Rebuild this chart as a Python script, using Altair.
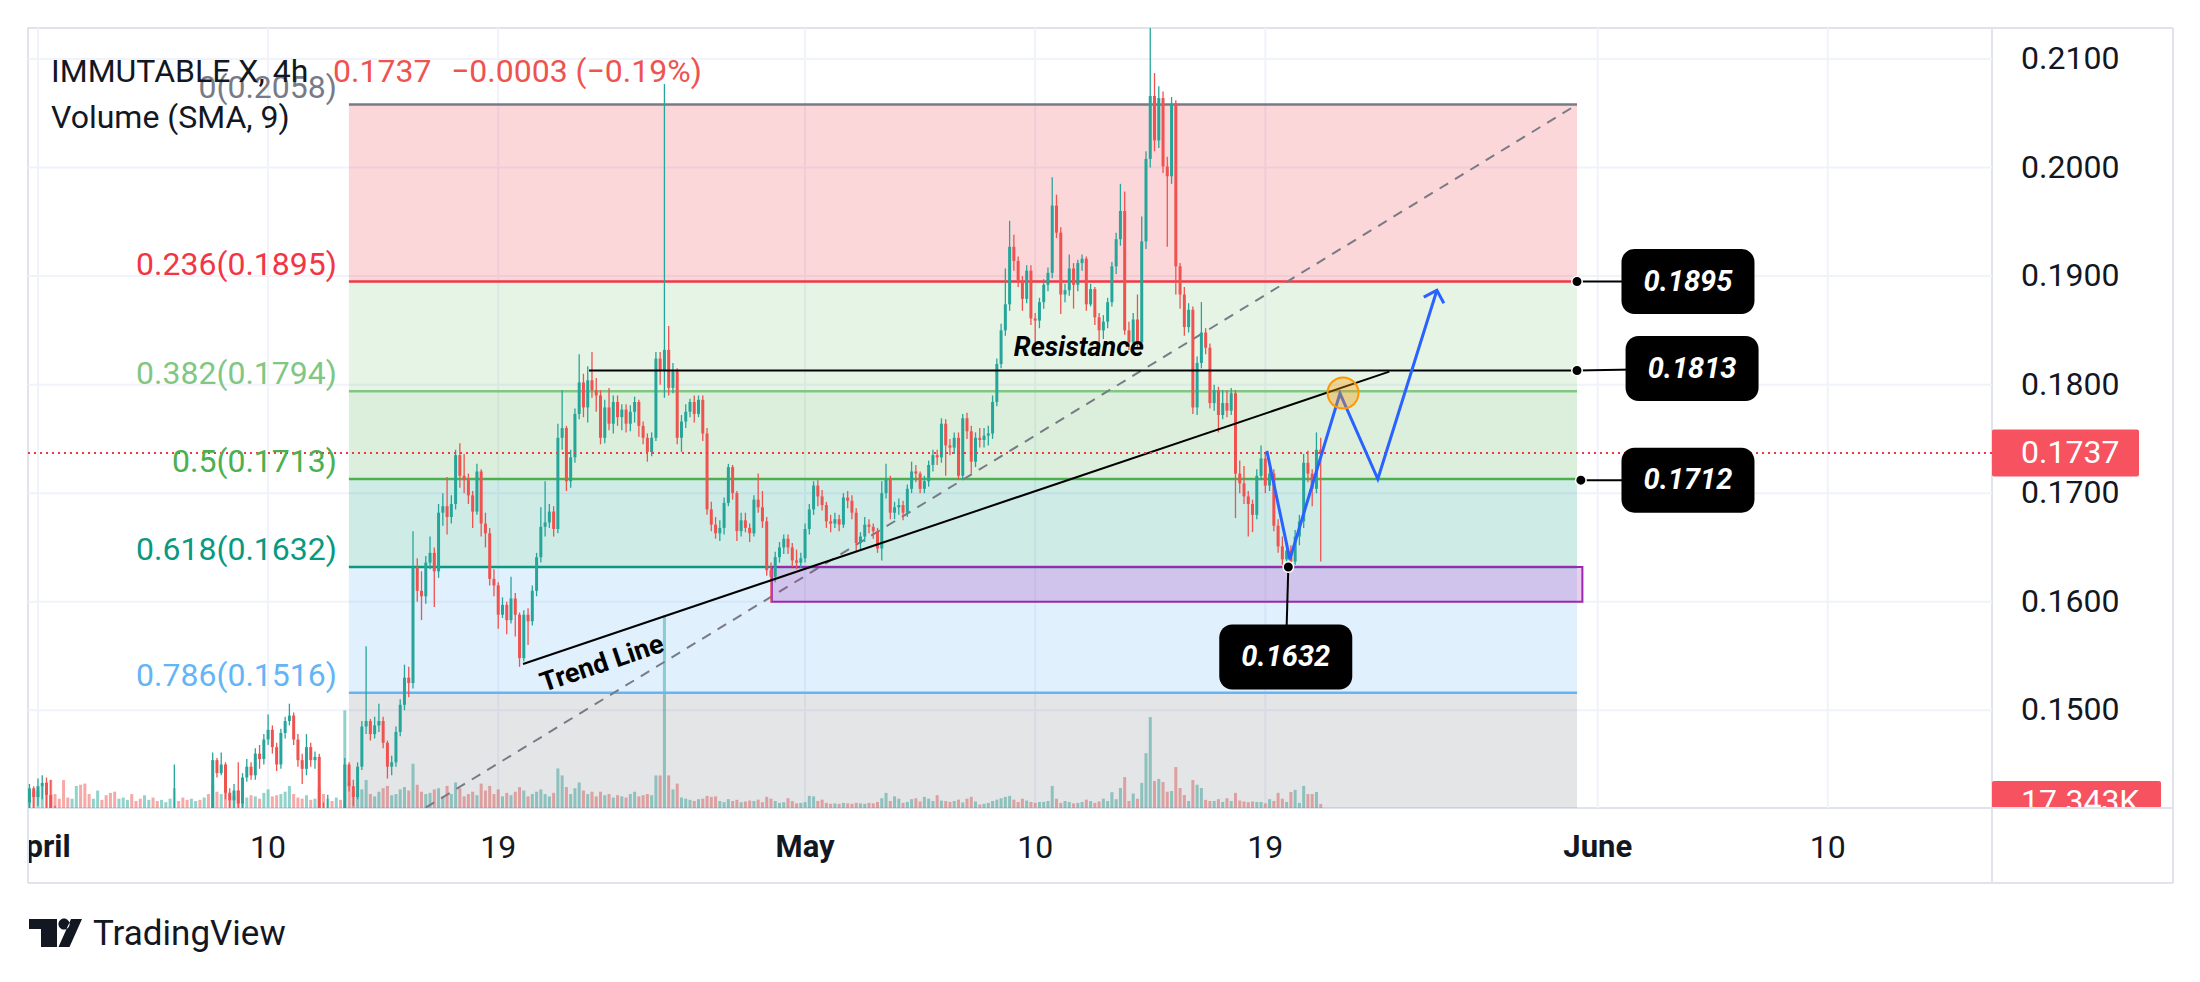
import altair as alt
import pandas as pd

# ---------------- values ----------------
# 4h candles, bar index k -> k/6 days after 1 April 00:00 (first bar = 31 Mar 16:00)
FIRST_BAR = -2
OPEN0 = 1415          # prices below are in units of 0.0001
CLOSE = [
    1428, 1420,
    1430, 1433, 1422, 1408, 1395, 1390,
    1385, 1378, 1392, 1398, 1388, 1380,
    1375, 1382, 1390, 1386, 1379, 1372,
    1368, 1376, 1384, 1395, 1390, 1384,
    1378, 1386, 1393, 1388, 1382, 1390,
    1395, 1400, 1405, 1398, 1392, 1388,
    1394, 1400, 1396, 1402, 1398, 1454,
    1442, 1450, 1424, 1417, 1426, 1414,
    1438, 1448, 1440, 1460, 1455, 1473,
    1482, 1466, 1450, 1479, 1490, 1495,
    1473, 1454, 1446, 1466, 1454, 1457,
    1405, 1392, 1398, 1388, 1395, 1390,
    1450, 1430, 1420, 1448, 1485, 1490,
    1478, 1486, 1490, 1470, 1448, 1452,
    1480, 1505, 1530, 1525, 1632, 1610,
    1605, 1636, 1645, 1628, 1682, 1688,
    1678, 1690, 1735, 1716, 1712, 1698,
    1683, 1720, 1672, 1663, 1621, 1615,
    1588, 1597, 1583, 1603, 1588, 1548,
    1588, 1582, 1610, 1641, 1669, 1673,
    1683, 1667, 1751, 1760, 1711, 1733,
    1773, 1802, 1779, 1804, 1795, 1790,
    1751, 1779, 1764, 1784, 1770, 1777,
    1764, 1775, 1784, 1762, 1751, 1738,
    1751, 1824, 1813, 1832, 1797, 1812,
    1751, 1766, 1775, 1784, 1773, 1786,
    1755, 1685, 1671, 1663, 1668, 1691,
    1724, 1700, 1665, 1675, 1668, 1663,
    1694, 1687, 1674, 1629, 1623, 1641,
    1650, 1658, 1650, 1638, 1636, 1640,
    1667, 1685, 1707, 1697, 1689, 1674,
    1672, 1676, 1671, 1696, 1693, 1682,
    1654, 1660, 1671, 1669, 1665, 1649,
    1700, 1713, 1682, 1687, 1689, 1682,
    1704, 1720, 1718, 1704, 1711, 1726,
    1735, 1733, 1764, 1744, 1742, 1751,
    1716, 1769, 1757, 1729, 1751, 1749,
    1753, 1755, 1784, 1819, 1850, 1874,
    1927, 1914, 1896, 1879, 1905, 1861,
    1859, 1876, 1892, 1903, 1965, 1940,
    1883, 1887, 1907, 1892, 1912, 1916,
    1874, 1888, 1862, 1850, 1858, 1876,
    1909, 1934, 1960, 1850, 1839, 1860,
    1839, 1932, 2008, 2066, 2025, 2064,
    2001, 1992, 2059, 1909, 1883, 1853,
    1869, 1779, 1820, 1848, 1834, 1783,
    1795, 1772, 1783, 1776, 1792, 1718,
    1709, 1697, 1690, 1680, 1716, 1732,
    1707, 1718, 1670, 1651, 1639, 1647,
    1637, 1660, 1674, 1728, 1718, 1704,
    1740, 1737,
]
HIGH = [
    1432, 1430,
    1437, 1440, 1438, 1436, 1412, 1400,
    1394, 1390, 1398, 1405, 1400, 1392,
    1384, 1388, 1396, 1394, 1390, 1382,
    1377, 1382, 1390, 1402, 1398, 1394,
    1388, 1391, 1399, 1396, 1390, 1395,
    1400, 1408, 1450, 1408, 1402, 1396,
    1398, 1406, 1404, 1409, 1406, 1461,
    1456, 1461, 1452, 1428, 1432, 1452,
    1442, 1455, 1452, 1465, 1468, 1478,
    1496, 1486, 1470, 1483, 1494, 1506,
    1498, 1478, 1460, 1478, 1470, 1462,
    1460, 1415, 1422, 1410, 1402, 1400,
    1456, 1452, 1436, 1452, 1490, 1559,
    1492, 1494, 1506, 1494, 1472, 1458,
    1485, 1510, 1542, 1540, 1665, 1640,
    1628, 1642, 1660, 1650, 1690, 1700,
    1715, 1698, 1740, 1746, 1736, 1718,
    1702, 1727, 1722, 1682, 1668, 1630,
    1618, 1604, 1600, 1623, 1608, 1590,
    1592, 1594, 1615, 1645, 1687, 1711,
    1690, 1688, 1764, 1795, 1762, 1740,
    1778, 1828, 1810, 1817, 1830, 1806,
    1795, 1786, 1797, 1790, 1790, 1782,
    1782, 1781, 1789, 1786, 1766, 1755,
    1756, 1830, 1830, 2077, 1854, 1820,
    1815, 1772, 1782, 1787, 1790, 1790,
    1790, 1760, 1692, 1678, 1675, 1696,
    1727, 1726, 1702, 1682, 1682, 1672,
    1698, 1718, 1702, 1678, 1636, 1646,
    1655, 1662, 1662, 1654, 1648, 1645,
    1672, 1690, 1711, 1712, 1703, 1692,
    1680, 1682, 1680, 1700, 1702, 1698,
    1686, 1664, 1678, 1676, 1672, 1668,
    1711, 1727, 1716, 1692, 1695, 1693,
    1708, 1729, 1726, 1720, 1716, 1730,
    1740, 1740, 1769, 1768, 1750, 1756,
    1756, 1773, 1774, 1762, 1756, 1760,
    1760, 1762, 1790, 1824, 1856, 1907,
    1951, 1938, 1918, 1900, 1910, 1910,
    1866, 1880, 1897, 1908, 1991, 1975,
    1945, 1893, 1920, 1912, 1915, 1920,
    1918, 1893, 1890, 1866, 1864, 1880,
    1913, 1940, 1985, 1978, 1858, 1866,
    1883, 1955, 2015, 2129, 2087, 2075,
    2070, 2010, 2065, 2062, 1912, 1890,
    1875, 1872, 1826, 1876, 1852, 1838,
    1800, 1798, 1795, 1795, 1797, 1795,
    1730, 1725, 1702, 1694, 1722, 1744,
    1736, 1725, 1722, 1676, 1660, 1655,
    1652, 1666, 1680, 1736, 1739, 1722,
    1756, 1751,
]
LOW = [
    1405, 1408,
    1412, 1418, 1410, 1400, 1388, 1380,
    1376, 1370, 1375, 1386, 1380, 1372,
    1368, 1371, 1378, 1378, 1372, 1365,
    1360, 1364, 1372, 1380, 1383, 1376,
    1372, 1374, 1382, 1381, 1376, 1378,
    1385, 1390, 1396, 1392, 1386, 1380,
    1382, 1388, 1390, 1392, 1390, 1396,
    1438, 1440, 1418, 1408, 1410, 1405,
    1410, 1434, 1436, 1436, 1446, 1450,
    1468, 1460, 1444, 1446, 1474, 1486,
    1468, 1448, 1432, 1440, 1448, 1446,
    1398, 1385, 1388, 1380, 1382, 1384,
    1390, 1425, 1412, 1418, 1445, 1478,
    1472, 1474, 1480, 1465, 1437, 1440,
    1448, 1476, 1500, 1512, 1520, 1600,
    1583, 1598, 1630, 1595, 1622, 1670,
    1662, 1672, 1685, 1705, 1700, 1690,
    1668, 1680, 1660, 1650, 1615, 1605,
    1575, 1585, 1570, 1580, 1568, 1540,
    1545, 1560, 1578, 1605, 1636, 1660,
    1668, 1660, 1663, 1740, 1702, 1705,
    1728, 1768, 1770, 1765, 1788, 1775,
    1745, 1746, 1758, 1755, 1762, 1758,
    1756, 1757, 1765, 1752, 1745, 1729,
    1734, 1748, 1800, 1788, 1790, 1792,
    1745, 1738, 1760, 1770, 1765, 1770,
    1748, 1680, 1665, 1658, 1656, 1662,
    1688, 1694, 1656, 1660, 1664, 1655,
    1660, 1682, 1668, 1624, 1599, 1618,
    1636, 1644, 1644, 1632, 1630, 1631,
    1636, 1662, 1680, 1688, 1684, 1668,
    1664, 1668, 1665, 1668, 1686, 1676,
    1647, 1648, 1655, 1663, 1658, 1645,
    1638, 1695, 1676, 1676, 1680, 1675,
    1678, 1700, 1710, 1700, 1700, 1706,
    1720, 1726, 1728, 1716, 1735, 1736,
    1712, 1712, 1750, 1718, 1724, 1742,
    1742, 1744, 1750, 1780, 1815, 1845,
    1868, 1905, 1890, 1868, 1875, 1855,
    1839, 1852, 1870, 1886, 1898, 1935,
    1865, 1876, 1882, 1870, 1886, 1905,
    1868, 1872, 1855, 1834, 1842, 1852,
    1872, 1902, 1928, 1846, 1832, 1834,
    1834, 1835, 1925, 2000, 2015, 2018,
    1995, 1927, 1985, 1883, 1870, 1845,
    1848, 1773, 1772, 1815, 1828, 1778,
    1776, 1756, 1768, 1770, 1772, 1677,
    1700, 1690, 1660, 1664, 1676, 1712,
    1700, 1702, 1665, 1645, 1634, 1632,
    1633, 1634, 1652, 1668, 1710, 1688,
    1700, 1637,
]
VOLUME_K = [
    60, 70,
    75, 95, 110, 120, 60, 40,
    120, 45, 40, 95, 100, 105,
    60, 40, 75, 35, 55, 65,
    70, 40, 45, 35, 60, 30,
    40, 55, 35, 45, 30, 35,
    25, 40, 85, 30, 45, 35,
    40, 30, 35, 45, 60, 100,
    70, 60, 90, 55, 50, 75,
    60, 45, 55, 50, 40, 65,
    80, 50, 55, 60, 70, 95,
    60, 45, 40, 55, 35, 40,
    90, 60, 40, 30, 45, 35,
    420, 110, 70, 60, 80, 120,
    60, 50, 70, 85, 95, 55,
    60, 80, 90, 75, 190, 100,
    70, 60, 65, 80, 85, 50,
    95, 60, 110, 85, 50, 60,
    70, 55, 105, 75, 95, 60,
    80, 50, 65, 55, 70, 90,
    75, 50, 60, 70, 80, 60,
    50, 65, 170, 140, 90, 60,
    85, 110, 75, 60, 70, 50,
    70, 55, 60, 45, 55, 50,
    45, 60, 70, 50, 55, 60,
    55, 140, 140, 830, 140, 80,
    105, 45, 40, 35, 30, 38,
    40, 52, 48, 50, 30, 25,
    38, 30, 35, 25, 28, 32,
    30, 36, 25, 48, 40, 30,
    22, 25, 42, 30, 20, 22,
    25, 52, 50, 30, 36, 22,
    18, 20, 18, 22, 20, 18,
    22, 20, 18, 22, 20, 26,
    42, 65, 30, 50, 40, 22,
    26, 38, 42, 28, 48, 40,
    30, 55, 32, 30, 26, 30,
    36, 24, 40, 48, 28, 15,
    18, 22, 30, 36, 42, 48,
    52, 36, 26, 40, 32, 26,
    22, 26, 26, 30, 95, 40,
    22, 30, 26, 20, 22, 26,
    36, 30, 22, 28, 40, 30,
    68, 38, 86, 133, 30, 62,
    40, 108, 236, 391, 116, 125,
    112, 70, 73, 176, 86, 56,
    30, 120, 100, 86, 35, 30,
    30, 38, 26, 42, 30, 65,
    32, 28, 25, 28, 26, 26,
    20, 38, 30, 65, 40, 26,
    69, 78, 22, 95, 60, 60,
    69, 17.343,
]

# Fibonacci retracement
FIB_LEVELS = [0, 0.236, 0.382, 0.5, 0.618, 0.786, 1]
FIB_PRICES = [0.2058, 0.1895, 0.1794, 0.1713, 0.1632, 0.1516, 0.1367]
FIB_COLORS = ["#787b86", "#f23645", "#81c784", "#4caf50", "#089981", "#64b5f6", "#787b86"]
FIB_START, FIB_END = 12.16, 60.19

# drawings (day, price)
RES_START, RES_END, RES_PRICE = 21.55, 60.19, 0.1813
TREND_DAYS = [18.97, 52.85]
TREND_PRICES = [0.15426, 0.1812]
ZONE_DAYS = [28.7, 60.4]
ZONE_PRICES = [0.1632, 0.1600]
PATH_DAYS = [48.06, 48.96, 50.92, 52.40, 54.71]
PATH_PRICES = [0.1739, 0.1639, 0.1792, 0.1713, 0.1887]
CIRCLE_DAY, CIRCLE_PRICE = 51.04, 0.17923
CALL_TEXT = ["0.1895", "0.1813", "0.1712", "0.1632"]
CALL_DOT_DAY = [60.19, 60.19, 60.34, 48.9]
CALL_DOT_PRICE = [0.1895, 0.1813, 0.1712, 0.1632]
CALL_BOX_DAY = [64.53, 64.69, 64.53, 48.8]
CALL_BOX_PRICE = [0.1895, 0.18148, 0.1712, 0.1549]
LAST_PRICE = 0.1737
LAST_VOLUME = 17.343

# axes
X_TICKS = [0, 9, 18, 30, 39, 48, 61, 70]
X_LABELS = ["April", "10", "19", "May", "10", "19", "June", "10"]
Y_TICKS = [0.15, 0.16, 0.17, 0.18, 0.19, 0.20, 0.21]

# ---------------- chart ----------------
W, H = 1964, 780
PMIN, PMAX = 0.14099, 0.21286
XMIN, XMAX = -0.39, 76.42
VMAX = 3354
UP, DN = "#26a69a", "#ef5350"
FRAME = "#e0e3eb"
GRID = "#f0f3fa"
INK = "#131722"
FONT = "Roboto"

n = min(len(CLOSE), len(HIGH), len(LOW), len(VOLUME_K))
rows = []
prev = OPEN0
for i in range(n):
    o = prev / 1e4
    c = CLOSE[i] / 1e4
    rows.append(dict(day=(FIRST_BAR + i) / 6.0, o=o, c=c,
                     h=max(HIGH[i] / 1e4, o, c), l=min(LOW[i] / 1e4, o, c),
                     v=VOLUME_K[i], v0=0, up=bool(c >= o)))
    prev = CLOSE[i]
bars = pd.DataFrame(rows)

xs = alt.Scale(domain=[XMIN, XMAX], nice=False, zero=False)
ys = alt.Scale(domain=[PMIN, PMAX], nice=False, zero=False)
vs = alt.Scale(domain=[0, VMAX], nice=False, zero=False)


def X(f):
    return alt.X(f, type="quantitative", scale=xs, axis=None)


def Y(f, s=ys):
    return alt.Y(f, type="quantitative", scale=s, axis=None)


one = pd.DataFrame({"a": [0]})
color_cond = alt.condition("datum.up", alt.value(UP), alt.value(DN))

# grid
hgrid = alt.Chart(pd.DataFrame({"p": Y_TICKS})).mark_rule(color=GRID, strokeWidth=2).encode(
    y=Y("p"), x=alt.value(0), x2=alt.value(W))
vgrid = alt.Chart(pd.DataFrame({"d": X_TICKS})).mark_rule(color=GRID, strokeWidth=2, clip=True).encode(
    x=X("d"), y=alt.value(0), y2=alt.value(H))
grid_group = alt.layer(hgrid, vgrid)

# volume
vol = alt.Chart(bars).mark_rule(strokeWidth=3, opacity=0.5, clip=True).encode(
    x=X("day"), y=Y("v", vs), y2="v0", color=color_cond)
vlab_df = pd.DataFrame({"v": [LAST_VOLUME], "t": ["17.343K"]})
vbox = alt.Chart(vlab_df).mark_rect(color="#f7525f", yOffset=-23, cornerRadius=2).encode(
    y=Y("v", vs), y2=alt.value(H), x=alt.value(W), x2=alt.value(W + 169))
vtxt = alt.Chart(vlab_df).mark_text(color="white", fontSize=32, font=FONT, align="left",
                                    baseline="middle", dy=-2).encode(
    y=Y("v", vs), x=alt.value(W + 29), text="t")
vol_group = alt.layer(vol, vbox, vtxt)

# fibonacci
fib = pd.DataFrame({"lvl": FIB_LEVELS, "p": FIB_PRICES, "col": FIB_COLORS})
fib["x0"] = FIB_START
fib["x1"] = FIB_END
fib["label"] = [f"{a:g}({b:.4f})" for a, b in zip(FIB_LEVELS, FIB_PRICES)]
bands = pd.DataFrame({"top": FIB_PRICES[:-1], "bot": FIB_PRICES[1:], "col": FIB_COLORS[1:]})
bands["x0"] = FIB_START
bands["x1"] = FIB_END

fib_fill = alt.Chart(bands).mark_rect(opacity=0.2, clip=True).encode(
    x=X("x0"), x2="x1", y=Y("top"), y2="bot", color=alt.Color("col:N", scale=None))
fib_lines = alt.Chart(fib).mark_rule(strokeWidth=2.5, clip=True).encode(
    x=X("x0"), x2="x1", y=Y("p"), color=alt.Color("col:N", scale=None))
fib_labels = alt.Chart(fib).mark_text(align="right", baseline="alphabetic", dx=-12, dy=-7,
                                      fontSize=32, font=FONT, clip=True).encode(
    x=X("x0"), y=Y("p"), text="label", color=alt.Color("col:N", scale=None))
diag_df = pd.DataFrame({"d": [FIB_START], "d2": [FIB_END], "p": [FIB_PRICES[-1]], "p2": [FIB_PRICES[0]]})
fib_diag = alt.Chart(diag_df).mark_rule(color="#787b86", strokeWidth=2, strokeDash=[10, 8], clip=True).encode(
    x=X("d"), x2="d2", y=Y("p"), y2="p2")

# purple zone
zone_df = pd.DataFrame({"d": [ZONE_DAYS[0]], "d2": [ZONE_DAYS[1]], "p": [ZONE_PRICES[0]], "p2": [ZONE_PRICES[1]]})
zone = alt.Chart(zone_df).mark_rect(fill="#9c27b0", fillOpacity=0.22, stroke="#9c27b0",
                                    strokeWidth=2, clip=True).encode(
    x=X("d"), x2="d2", y=Y("p"), y2="p2")

# candles
wick = alt.Chart(bars).mark_rule(strokeWidth=1.3, clip=True).encode(
    x=X("day"), y=Y("l"), y2="h", color=color_cond)
body = alt.Chart(bars).mark_rule(strokeWidth=3, clip=True).encode(
    x=X("day"), y=Y("o"), y2="c", color=color_cond)

# drawings
res_df = pd.DataFrame({"d": [RES_START], "d2": [RES_END], "p": [RES_PRICE]})
res_line = alt.Chart(res_df).mark_rule(color="black", strokeWidth=2, clip=True).encode(
    x=X("d"), x2="d2", y=Y("p"))
tr_df = pd.DataFrame({"d": [TREND_DAYS[0]], "d2": [TREND_DAYS[1]], "p": [TREND_PRICES[0]], "p2": [TREND_PRICES[1]]})
trend = alt.Chart(tr_df).mark_rule(color="black", strokeWidth=2, clip=True).encode(
    x=X("d"), x2="d2", y=Y("p"), y2="p2")
last_line = alt.Chart(pd.DataFrame({"p": [LAST_PRICE]})).mark_rule(
    color="#f23645", strokeWidth=2, strokeDash=[2, 4]).encode(
    y=Y("p"), x=alt.value(0), x2=alt.value(W))

path_df = pd.DataFrame({"i": range(len(PATH_DAYS)), "d": PATH_DAYS, "p": PATH_PRICES})
path = alt.Chart(path_df).mark_line(color="#2962ff", strokeWidth=3, clip=True).encode(
    x=X("d"), y=Y("p"), order="i")
arrow = alt.Chart(path_df.tail(1)).mark_point(
    shape="M-0.7,0.7L0,0L0.7,0.7", filled=False, stroke="#2962ff", strokeWidth=3,
    size=900, angle=17, opacity=1).encode(x=X("d"), y=Y("p"))
circ = alt.Chart(pd.DataFrame({"d": [CIRCLE_DAY], "p": [CIRCLE_PRICE]})).mark_point(
    shape="circle", filled=True, fill="#ff9800", fillOpacity=0.35, stroke="#ff9800",
    strokeWidth=2, strokeOpacity=1, opacity=1, size=960).encode(x=X("d"), y=Y("p"))

notes = pd.DataFrame({"d": [40.71], "p": [0.18337], "t": ["Resistance"]})
res_txt = alt.Chart(notes).mark_text(fontSize=27, font=FONT, fontWeight="bold", fontStyle="italic",
                                     color="black", baseline="middle").encode(
    x=X("d"), y=Y("p"), text="t")
tl = pd.DataFrame({"d": [22.06], "p": [0.15426], "t": ["Trend Line"]})
tl_txt = alt.Chart(tl).mark_text(fontSize=27, font=FONT, fontWeight="bold", color="black",
                                 baseline="middle", angle=341.4).encode(
    x=X("d"), y=Y("p"), text="t")

# callouts
call = pd.DataFrame({"t": CALL_TEXT, "dd": CALL_DOT_DAY, "dp": CALL_DOT_PRICE,
                     "bd": CALL_BOX_DAY, "bp": CALL_BOX_PRICE})
conn = alt.Chart(call).mark_rule(color="black", strokeWidth=2).encode(
    x=X("dd"), y=Y("dp"), x2="bd", y2="bp")
boxes = alt.Chart(call).mark_rect(color="black", cornerRadius=13, xOffset=-66.5, x2Offset=66.5,
                                  yOffset=-32.5, y2Offset=32.5).encode(
    x=X("bd"), x2="bd", y=Y("bp"), y2="bp")
btxt = alt.Chart(call).mark_text(color="white", fontSize=29, font=FONT, fontWeight="bold",
                                 fontStyle="italic", baseline="middle").encode(
    x=X("bd"), y=Y("bp"), text="t")
dots = alt.Chart(call).mark_circle(color="black", stroke="white", strokeWidth=1.5, size=110, opacity=1).encode(
    x=X("dd"), y=Y("dp"))

# legend (top-left)
def label(txt, x, y, color=INK, size=32, weight="normal", align="left"):
    return alt.Chart(pd.DataFrame({"t": [txt]})).mark_text(
        align=align, baseline="alphabetic", fontSize=size, font=FONT, color=color,
        fontWeight=weight).encode(x=alt.value(x), y=alt.value(y), text="t")

leg1 = label("IMMUTABLE X, 4h", 23, 54)
leg2 = label("0.1737", 305, 54, color="#ef5350")
leg3 = label("\u22120.0003 (\u22120.19%)", 423, 54, color="#ef5350")
leg4 = label("Volume (SMA, 9)", 23, 100)

# price axis labels
yl = pd.DataFrame({"p": Y_TICKS, "t": [f"{v:.4f}" for v in Y_TICKS]})
ylab = alt.Chart(yl).mark_text(align="left", baseline="middle", fontSize=32, font=FONT, color=INK).encode(
    y=Y("p"), x=alt.value(W + 29), text="t")
lp = pd.DataFrame({"p": [LAST_PRICE], "t": [f"{LAST_PRICE:.4f}"]})
pbox = alt.Chart(lp).mark_rect(color="#f7525f", cornerRadius=2, yOffset=-23.5, y2Offset=23.5).encode(
    y=Y("p"), y2="p", x=alt.value(W), x2=alt.value(W + 147))
ptxt = alt.Chart(lp).mark_text(align="left", baseline="middle", fontSize=32, font=FONT, color="white").encode(
    y=Y("p"), x=alt.value(W + 29), text="t")

# time axis labels
xl = pd.DataFrame({"d": X_TICKS, "t": X_LABELS})
xl["month"] = [t.isalpha() for t in X_LABELS]
xlab_n = alt.Chart(xl[~xl["month"]]).mark_text(fontSize=32, font=FONT, color=INK, baseline="middle").encode(
    x=X("d"), y=alt.value(820), text="t")
xlab_b = alt.Chart(xl[xl["month"]]).mark_text(fontSize=31, font=FONT, color=INK, fontWeight="bold",
                                              baseline="middle").encode(
    x=X("d"), y=alt.value(820), text="t")

cover_left = alt.Chart(one).mark_rect(color="white").encode(
    x=alt.value(-20), x2=alt.value(-1), y=alt.value(790), y2=alt.value(850))
cover_vol = alt.Chart(one).mark_rect(color="white").encode(
    x=alt.value(W + 1), x2=alt.value(W + 180), y=alt.value(H + 1), y2=alt.value(H + 40))


def hline(y, x0, x1):
    return alt.Chart(one).mark_rule(color=FRAME, strokeWidth=2).encode(
        x=alt.value(x0), x2=alt.value(x1), y=alt.value(y))


def vline(x, y0, y1):
    return alt.Chart(one).mark_rule(color=FRAME, strokeWidth=2).encode(
        x=alt.value(x), y=alt.value(y0), y2=alt.value(y1))


frame = [hline(0, W, W + 181), vline(W + 181, 0, 855), hline(855, 0, W + 181),
         vline(W, H, 855), vline(0, H, 855), hline(H, W, W + 181)]

# TradingView logo
LOGO = ("M-1,-0.528L0.057,-0.528L0.057,0.528L-0.547,0.528L-0.547,-0.151L-1,-0.151Z"
        "M0.111,-0.34A0.21,0.21 0 1,0 0.531,-0.34A0.21,0.21 0 1,0 0.111,-0.34Z"
        "M0.585,-0.528L1,-0.528L0.528,0.528L0.113,0.528Z")
logo = alt.Chart(one).mark_point(shape=LOGO, filled=True, fill=INK, strokeWidth=0, opacity=1, size=2809).encode(
    x=alt.value(27.5), y=alt.value(905))
logo_txt = label("TradingView", 65, 917, size=35)

price_group = alt.layer(
    fib_fill, fib_lines, fib_diag, zone, wick, body, res_line, trend, last_line,
    path, arrow, circ, res_txt, tl_txt, fib_labels, conn, boxes, btxt, dots,
    leg1, leg2, leg3, leg4, ylab, pbox, ptxt, xlab_n, xlab_b, cover_left, cover_vol,
    *frame, logo, logo_txt)

chart = alt.layer(grid_group, vol_group, price_group).resolve_scale(y="independent").properties(
    width=W, height=H,
    padding={"left": 20, "top": 20, "right": 200, "bottom": 166},
    autosize=alt.AutoSizeParams(type="none"),
    background="white",
).configure_view(stroke=FRAME, strokeWidth=2)

chart.save("out.html", embed_options={"renderer": "svg", "actions": False})
